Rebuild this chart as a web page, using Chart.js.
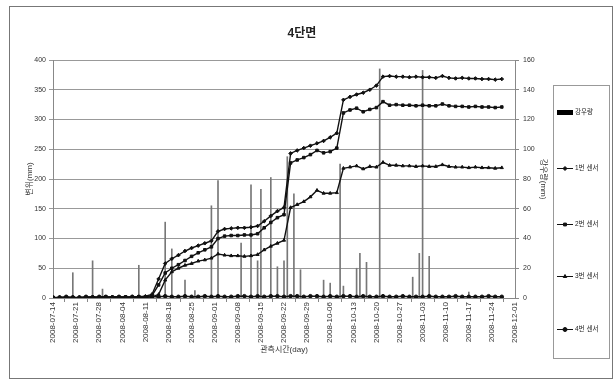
<!DOCTYPE html>
<html>
<head>
<meta charset="utf-8">
<script src="https://cdn.jsdelivr.net/npm/chart.js@4/dist/chart.umd.min.js"></script>
<style>
html,body{margin:0;padding:0;background:#fff;}
#wrap{position:relative;width:616px;height:383px;}
</style>
</head>
<body>
<div id="wrap"><canvas id="c" width="616" height="383"></canvas></div>
<script>
// ---- data ----
const chartTitle = "4단면";
const xTitle = "관측시간(day)";
const yLeftTitle = "변위(mm)";
const yRightTitle = "강우량(mm)";
const xTickLabels = ["2008-07-14","2008-07-21","2008-07-28","2008-08-04","2008-08-11","2008-08-18","2008-08-25",
  "2008-09-01","2008-09-08","2008-09-15","2008-09-22","2008-09-29","2008-10-06","2008-10-13","2008-10-20",
  "2008-10-27","2008-11-03","2008-11-10","2008-11-17","2008-11-24","2008-12-01"];
const seriesNames = ["강우량","1번 센서","2번 센서","3번 센서","4번 센서"];

const rainDays   = [6,12,15,26,34,36,40,43,48,50,57,60,62,63,66,68,70,71,73,75,82,84,87,88,92,93,95,99,109,111,112,114,126];
const rainValues = [17,25,6,22,51,33,12,5,62,79,37,76,25,73,81,21,25,95,70,19,12,10,90,8,20,30,24,154,14,30,153,28,4];

const obsDays = [0,2,4,6,8,10,12,14,16,18,20,22,24,26,28,30,32,34,36,38,40,42,44,46,48,50,52,54,56,58,60,62,64,66,68,
  70,72,74,76,78,80,82,84,86,88,90,92,94,96,98,100,102,104,106,108,110,112,114,116,118,120,122,124,126,128,130,132,134,136];

const sensor1 = [0,1,1,0,1,1,2,1,1,2,2,1,2,2,3,
  6,32,58,66,72,79,84,88,92,96,112,116,117,118,118,119,121,129,138,146,152,243,248,252,256,260,264,270,277,333,338,342,345,350,357,
  372,373,372,372,371,372,371,371,370,373,370,369,370,369,369,368,368,367,368];
const sensor2 = [0,0,1,1,0,1,1,1,2,1,1,2,1,2,2,
  4,22,42,50,56,63,70,76,81,86,100,104,105,105,106,106,108,118,127,135,140,227,232,236,241,248,244,246,252,311,316,319,313,317,320,
  330,324,325,324,324,323,324,323,323,326,323,322,322,321,322,321,321,320,321];
const sensor3 = [0,0,0,1,0,1,1,0,1,1,1,1,1,1,1,2,
  6,30,44,50,55,58,62,64,67,74,72,71,71,70,71,73,81,87,92,97,152,157,162,170,181,176,176,177,218,220,222,217,221,220,
  228,223,223,222,222,221,222,221,221,224,221,220,220,219,220,219,219,218,219];
const sensor4 = [1,1,2,1,1,2,1,2,2,1,2,1,2,2,1,
  2,2,3,2,2,3,2,2,3,2,
  3,2,2,3,3,2,3,2,3,3,
  2,3,3,2,3,3,2,3,2,3,
  3,2,3,2,2,3,2,2,3,2,
  2,2,3,2,2,2,3,2,2,2,
  2,3,2,2];

// ---- build ----
const FONT = "'Liberation Sans','Noto Sans CJK KR',Arial,sans-serif";
const pts = (xs, ys) => xs.map((x, i) => ({x: x, y: ys[i]}));
const lineDs = (label, vals, style) => ({
  type: 'line', label: label, data: pts(obsDays, vals), yAxisID: 'y',
  borderColor: '#111', backgroundColor: '#111', borderWidth: 1.4,
  pointStyle: style, pointRadius: 1.8, pointBorderWidth: 1, pointBorderColor: '#111', pointBackgroundColor: '#111',
  tension: 0, order: 1
});

const borderPlugin = {
  id: 'outerBorder',
  beforeDraw(chart) {
    const c = chart.ctx;
    c.save();
    c.fillStyle = '#fff';
    c.fillRect(0, 0, chart.width, chart.height);
    c.strokeStyle = '#777';
    c.lineWidth = 1;
    c.strokeRect(9.5, 6.5, 603, 372);
    c.restore();
  }
};

const legendPlugin = {
  id: 'boxLegend',
  afterDraw(chart) {
    const c = chart.ctx;
    c.save();
    c.strokeStyle = '#999';
    c.lineWidth = 1;
    c.strokeRect(553.5, 85.5, 56, 273);
    const ys = [112, 168, 224, 276, 329];
    chart.data.datasets.forEach((ds, i) => {
      const y = ys[i];
      if (ds.type === 'line') {
        c.strokeStyle = '#111';
        c.lineWidth = 1;
        c.beginPath(); c.moveTo(557, y + 0.5); c.lineTo(573, y + 0.5); c.stroke();
        c.fillStyle = '#111';
        Chart.helpers.drawPoint(c, {pointStyle: ds.pointStyle, radius: 2, borderWidth: 1}, 565, y + 0.5);
      } else {
        c.fillStyle = '#000';
        c.fillRect(557, y - 2, 16, 5);
      }
      c.fillStyle = '#222';
      c.font = '6.5px ' + FONT;
      c.textAlign = 'left';
      c.textBaseline = 'middle';
      c.fillText(ds.label, 575, y + 0.5);
    });
    c.restore();
  }
};

new Chart(document.getElementById('c'), {
  type: 'bar',
  data: {
    datasets: [
      { type: 'bar', label: seriesNames[0], data: pts(rainDays, rainValues), yAxisID: 'y1',
        backgroundColor: '#777', borderWidth: 0, barThickness: 1, order: 2 },
      lineDs(seriesNames[1], sensor1, 'rectRot'),
      lineDs(seriesNames[2], sensor2, 'rect'),
      lineDs(seriesNames[3], sensor3, 'triangle'),
      lineDs(seriesNames[4], sensor4, 'circle')
    ]
  },
  options: {
    responsive: false,
    animation: false,
    devicePixelRatio: 1,
    layout: { padding: { left: 0, right: 12, top: 0, bottom: 0 } },
    plugins: {
      legend: { display: false },
      tooltip: { enabled: false },
      title: { display: true, text: chartTitle, color: '#222',
        font: { size: 12, weight: 'bold', family: FONT, lineHeight: 1.2 },
        padding: { top: 26, bottom: 19.6 } }
    },
    scales: {
      x: {
        type: 'linear', min: 0, max: 140, offset: false, position: 'bottom',
        afterFit(s) { s.height = 85; },
        afterBuildTicks(s) { s.ticks = xTickLabels.map((_, i) => ({ value: i * 7 })); },
        ticks: { autoSkip: false, maxRotation: 90, minRotation: 90, padding: 0, color: '#333',
          font: { size: 8, family: FONT },
          callback: (v) => xTickLabels[Math.round(v / 7)] },
        grid: { drawOnChartArea: false, tickLength: 4, color: '#888' },
        border: { color: '#888' },
        title: { display: true, text: xTitle, color: '#333', font: { size: 8, family: FONT }, padding: { top: 0, bottom: 28 } }
      },
      y: {
        position: 'left', min: 0, max: 400,
        afterFit(s) { s.width = 53; },
        ticks: { stepSize: 50, padding: 3, color: '#333', font: { size: 7, family: FONT } },
        grid: { color: '#999', lineWidth: 1, tickLength: 4 },
        border: { color: '#888' },
        title: { display: true, text: yLeftTitle, color: '#333', font: { size: 8, family: FONT }, padding: { top: 25, bottom: 0 } }
      },
      y1: {
        position: 'right', min: 0, max: 160,
        afterFit(s) { s.width = 616 - 12 - 515; },
        ticks: { stepSize: 20, padding: 4, color: '#333', font: { size: 7, family: FONT } },
        grid: { drawOnChartArea: false, tickLength: 4, color: '#888' },
        border: { color: '#888' },
        title: { display: true, text: yRightTitle, color: '#333', font: { size: 8, family: FONT }, padding: { top: 56, bottom: 0 } }
      }
    }
  },
  plugins: [borderPlugin, legendPlugin]
});
</script>
</body>
</html>
